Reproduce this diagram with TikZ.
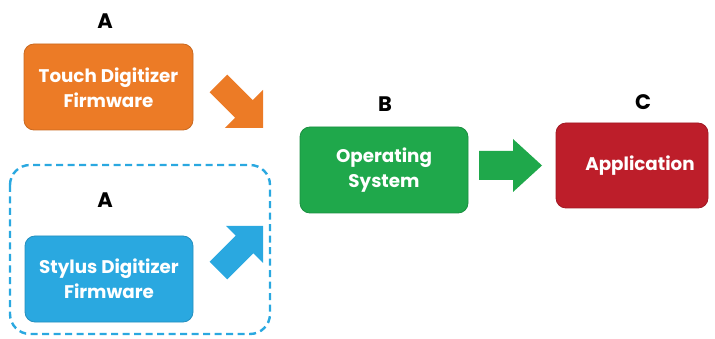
\documentclass[tikz,border=0pt]{standalone}
\usepackage{fontspec}
\setmainfont{Poppins}
\definecolor{touchorange}{HTML}{EC7B26}
\definecolor{stylusblue}{HTML}{2AA8E0}
\definecolor{osgreen}{HTML}{1FA84B}
\definecolor{appred}{HTML}{BD1E2A}
\begin{document}
\begin{tikzpicture}[x=1pt,y=-1pt,
  box/.style={rounded corners=10pt, line width=0.8pt},
  boxtext/.style={text=white, font=\bfseries\fontsize{18.3}{25}\selectfont, align=center},
  letter/.style={font=\bfseries\fontsize{21}{21}\selectfont, text=black},
  pics/blockarrow/.style n args={3}{code={
    % head length, head half-width, shaft half-width; tail 63 behind the tip
    \fill (0,0) -- (-#1,#2) -- (-#1,#3) -- (-63,#3) -- (-63,-#3)
          -- (-#1,-#3) -- (-#1,-#2) -- cycle;}}
]
\useasboundingbox (0,0) rectangle (715,339);

% dashed frame around the stylus path
\draw[stylusblue, line width=2.4pt, dash pattern=on 7pt off 4.5pt, rounded corners=20pt]
  (10,165) rectangle (270,334);

% boxes
\draw[box, fill=touchorange, draw=touchorange!85!black] (24,44) rectangle (193,130);
\node[boxtext] (touch) at (108.5,88) {Touch Digitizer\\Firmware};

\draw[box, fill=stylusblue, draw=stylusblue!85!black] (25,236) rectangle (193,322);
\node[boxtext] (stylus) at (109,279) {Stylus Digitizer\\Firmware};

\draw[box, fill=osgreen, draw=osgreen!85!black] (300,127) rectangle (468,213);
\node[boxtext] (os) at (384,170) {Operating\\System};

\draw[box, fill=appred, draw=appred!85!black] (556,123) rectangle (708,208);
\node[boxtext] (app) at (640,166) {Application};

% stage letters
\node[letter] (la) at (105,21) {A};
\node[letter] (lb) at (105,200) {A};
\node[letter] (lc) at (385,104) {B};
\node[letter] (ld) at (643,102) {C};

% block arrows
\pic[touchorange, shift={(263,128)}, rotate=-45] {blockarrow={27}{27}{12.5}};
\pic[stylusblue, shift={(263,226)}, rotate=45] {blockarrow={26}{26}{12.5}};
\pic[osgreen, shift={(542,165.5)}] {blockarrow={29}{26.5}{14.5}};
\end{tikzpicture}
\end{document}
